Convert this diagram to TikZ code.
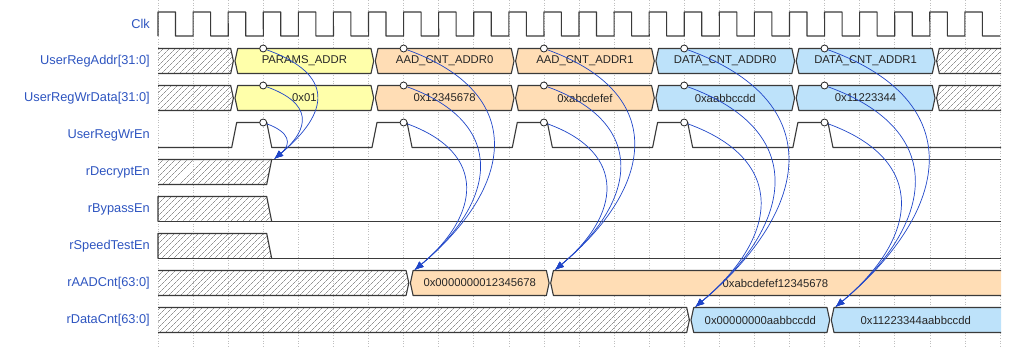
\documentclass[tikz,border=0pt]{standalone}
\usepackage{fontspec}
\setmainfont{Liberation Sans}
\usepackage{xcolor}
\definecolor{SigBlue}{HTML}{2E55C0}
\definecolor{ArrowBlue}{HTML}{1F45C8}
\definecolor{WaveGray}{HTML}{3A3A3A}
\definecolor{ParamFill}{HTML}{FFFFAA}
\definecolor{AadFill}{HTML}{FFDDB5}
\definecolor{DataFill}{HTML}{BDE2FA}
\usepackage{tikz}
\usetikzlibrary{arrows.meta, patterns.meta}

% bus value between two transitions: name, fill, from, to, y, text
\newcommand{\busseg}[6]{%
  \draw[wave, fill=#2] (#3+3.5,#5+12.5) -- (#3+0.8,#5) -- (#3+3.5,#5-12.5)
    -- (#4-3.5,#5-12.5) -- (#4-0.8,#5) -- (#4-3.5,#5+12.5) -- cycle;
  \node[val] (#1) at ({(#3+#4)/2},#5) {#6};}
% bus value running to the right edge: name, fill, from, y, text
\newcommand{\busopen}[5]{%
  \draw[wave, fill=#2] (1001,#4+12.5) -- (#3+3.5,#4+12.5) -- (#3+0.8,#4)
    -- (#3+3.5,#4-12.5) -- (1001,#4-12.5);
  \node[val] (#1) at ({(#3+1001)/2},#4) {#5};}
% unknown value from the left edge up to a transition: to, y
\newcommand{\hatchhead}[2]{%
  \draw[hatch] (158,#2+12.5) -- (#1-3.5,#2+12.5) -- (#1-0.8,#2)
    -- (#1-3.5,#2-12.5) -- (158,#2-12.5);}
% unknown value from a transition to the right edge: from, y
\newcommand{\hatchtail}[2]{%
  \draw[hatch] (1001,#2+12.5) -- (#1+3.5,#2+12.5) -- (#1+0.8,#2)
    -- (#1+3.5,#2-12.5) -- (1001,#2-12.5);}

\begin{document}
\begin{tikzpicture}[
  x=1pt, y=1pt,
  wave/.style={draw=WaveGray, line width=1.1pt, line join=round},
  hatch/.style={wave,
    pattern={Lines[angle=45, distance=4pt, line width=0.45pt]},
    pattern color=WaveGray!85},
  gridln/.style={draw=black!25, line width=0.5pt, dash pattern=on 1pt off 1.6pt},
  sig/.style={font=\fontsize{12.8}{15}\selectfont, text=SigBlue, anchor=east, inner sep=0pt},
  val/.style={font=\fontsize{11.3}{13}\selectfont, text=black!85, inner sep=0pt},
  probe/.style={circle, draw=black!85, fill=white, line width=0.8pt,
    inner sep=0pt, minimum size=7pt},
  conn/.style={-{Latex[length=9pt,width=7pt]}, draw=ArrowBlue, line width=0.7pt,
    out=-20, in=40, looseness=1.5},
]
\useasboundingbox (0,0) rectangle (1018,-346);

% clock grid
\foreach \k in {0,...,24}
  \draw[gridln] ({158+35.08*\k},0) -- ({158+35.08*\k},-346);

% signal names
\node[sig] (sClk)  at (150,-24)  {Clk};
\node[sig] (sAddr) at (150,-61)  {UserRegAddr[31:0]};
\node[sig] (sData) at (150,-98)  {UserRegWrData[31:0]};
\node[sig] (sWrEn) at (150,-135) {UserRegWrEn};
\node[sig] (sDec)  at (150,-172) {rDecryptEn};
\node[sig] (sByp)  at (150,-209) {rBypassEn};
\node[sig] (sSpd)  at (150,-246) {rSpeedTestEn};
\node[sig] (sAad)  at (150,-283) {rAADCnt[63:0]};
\node[sig] (sCnt)  at (150,-320) {rDataCnt[63:0]};

% Clk
\draw[wave] (158,-36) \foreach \k in {0,...,23} {
  -- ({158+35.08*\k},-12) -- ({175.54+35.08*\k},-12)
  -- ({175.54+35.08*\k},-36) -- ({193.16+35.08*\k},-36) };

% UserRegAddr
\hatchhead{234.2}{-61}
\busseg{vAddr1}{ParamFill}{234.2}{374.5}{-61}{PARAMS\_ADDR}
\busseg{vAddr2}{AadFill}{374.5}{514.8}{-61}{AAD\_CNT\_ADDR0}
\busseg{vAddr3}{AadFill}{514.8}{655.1}{-61}{AAD\_CNT\_ADDR1}
\busseg{vAddr4}{DataFill}{655.1}{795.4}{-61}{DATA\_CNT\_ADDR0}
\busseg{vAddr5}{DataFill}{795.4}{935.8}{-61}{DATA\_CNT\_ADDR1}
\hatchtail{935.8}{-61}

% UserRegWrData
\hatchhead{234.2}{-98}
\busseg{vData1}{ParamFill}{234.2}{374.5}{-98}{0x01}
\busseg{vData2}{AadFill}{374.5}{514.8}{-98}{0x12345678}
\busseg{vData3}{AadFill}{514.8}{655.1}{-98}{0xabcdefef}
\busseg{vData4}{DataFill}{655.1}{795.4}{-98}{0xaabbccdd}
\busseg{vData5}{DataFill}{795.4}{935.8}{-98}{0x11223344}
\hatchtail{935.8}{-98}

% UserRegWrEn
\draw[wave] (158,-147.5) \foreach \t in {234.2,374.5,514.8,655.1,795.4} {
  -- (\t-2.5,-147.5) -- (\t+2.5,-122.5)
  -- (\t+32.58,-122.5) -- (\t+37.58,-147.5) } -- (1001,-147.5);

% rDecryptEn, rBypassEn, rSpeedTestEn
\draw[hatch] (158,-159.5) -- (271.7,-159.5) -- (266.7,-184.5) -- (158,-184.5);
\draw[wave] (158,-159.5) -- (1001,-159.5);
\draw[hatch] (158,-221.5) -- (158,-196.5) -- (266.7,-196.5) -- (271.7,-221.5);
\draw[wave] (158,-221.5) -- (1001,-221.5);
\draw[hatch] (158,-258.5) -- (158,-233.5) -- (266.7,-233.5) -- (271.7,-258.5);
\draw[wave] (158,-258.5) -- (1001,-258.5);

% rAADCnt
\hatchhead{409.6}{-283}
\busseg{vAad1}{AadFill}{409.6}{549.9}{-283}{0x0000000012345678}
\busopen{vAad2}{AadFill}{549.9}{-283}{0xabcdefef12345678}

% rDataCnt
\hatchhead{690.2}{-320}
\busseg{vCnt1}{DataFill}{690.2}{830.5}{-320}{0x00000000aabbccdd}
\busopen{vCnt2}{DataFill}{830.5}{-320}{0x11223344aabbccdd}

% write strobes and their effect
\foreach \k/\x in {3/263.2, 7/403.6, 11/543.9, 15/684.2, 19/824.5} {
  \node[probe] (pA\k) at (\x,-48.5)  {};
  \node[probe] (pD\k) at (\x,-85.5)  {};
  \node[probe] (pE\k) at (\x,-122.5) {};
}
\coordinate (t3)  at (274.2,-159);
\coordinate (t7)  at (414.6,-270);
\coordinate (t11) at (554.9,-270);
\coordinate (t15) at (695.2,-307);
\coordinate (t19) at (835.5,-307);

\foreach \r in {A,D,E}
  \draw[conn, looseness=1.7] (p\r3) to (t3);
\foreach \k in {7,11,15,19}
  \foreach \r in {A,D,E}
    \draw[conn] (p\r\k) to (t\k);

\end{tikzpicture}
\end{document}
